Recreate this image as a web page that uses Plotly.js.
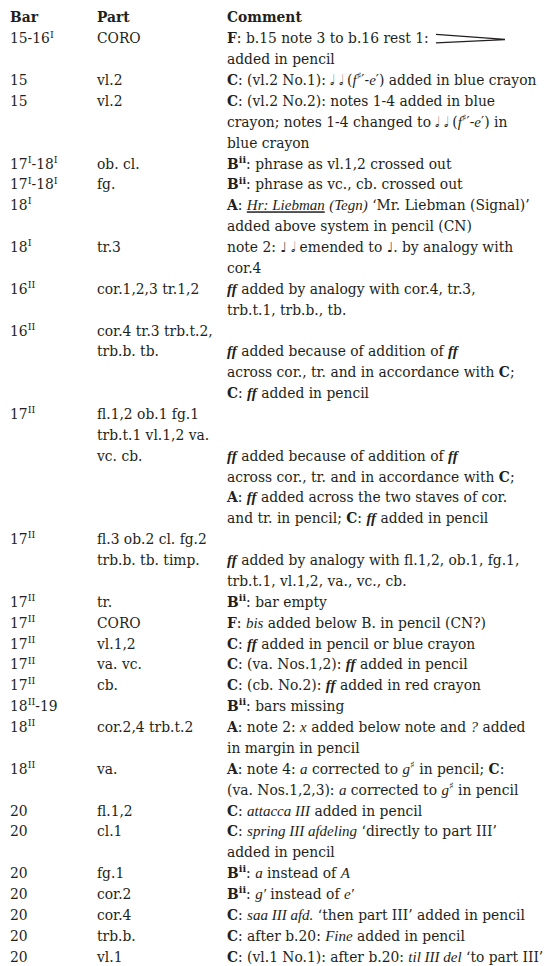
<!DOCTYPE html>
<html><head><meta charset="utf-8">
<script src="https://cdn.plot.ly/plotly-3.0.1.min.js"></script>
<style>html,body{margin:0;padding:0;background:#fff}</style>
</head><body><div id="chart" style="width:545px;height:966px"></div>
<script>
// ---------- table content ----------
const HN = '<span style="font-family:DejaVu Sans">\u{1D15E}</span>'; // half note
const QN = '<span style="font-family:DejaVu Sans">\u2669</span>';    // quarter note
const FF = '<b><i>ff</i></b>';
const SH = '<sup>\u266F</sup>';

const headers = ["Bar", "Part", "Comment"];

const bars = [
  "15-16<sup>I</sup>", "15", "15",
  "17<sup>I</sup>-18<sup>I</sup>", "17<sup>I</sup>-18<sup>I</sup>",
  "18<sup>I</sup>", "18<sup>I</sup>",
  "16<sup>II</sup>", "16<sup>II</sup>",
  "17<sup>II</sup>", "17<sup>II</sup>", "17<sup>II</sup>", "17<sup>II</sup>",
  "17<sup>II</sup>", "17<sup>II</sup>", "17<sup>II</sup>",
  "18<sup>II</sup>-19", "18<sup>II</sup>", "18<sup>II</sup>",
  "20", "20", "20", "20", "20", "20", "20"
];

const parts = [
  "CORO", "vl.2", "vl.2",
  "ob. cl.", "fg.",
  "", "tr.3",
  "cor.1,2,3 tr.1,2", "cor.4 tr.3 trb.t.2,<br>trb.b. tb.",
  "fl.1,2 ob.1 fg.1<br>trb.t.1 vl.1,2 va.<br>vc. cb.", "fl.3 ob.2 cl. fg.2<br>trb.b. tb. timp.", "tr.", "CORO",
  "vl.1,2", "va. vc.", "cb.",
  "", "cor.2,4 trb.t.2", "va.",
  "fl.1,2", "cl.1", "fg.1", "cor.2", "cor.4", "trb.b.", "vl.1"
];

const comments = [
  "<b>F</b>: b.15 note 3 to b.16 rest 1:<br>added in pencil",
  "<b>C</b>: (vl.2 No.1): " + HN + " " + HN + " (<i>f</i>" + SH + "\u2032-<i>e</i>\u2032) added in blue crayon",
  "<b>C</b>: (vl.2 No.2): notes 1-4 added in blue<br>crayon; notes 1-4 changed to " + HN + " " + HN + " (<i>f</i>" + SH + "\u2032-<i>e</i>\u2032) in<br>blue crayon",
  "<b>B<sup>ii</sup></b>: phrase as vl.1,2 crossed out",
  "<b>B<sup>ii</sup></b>: phrase as vc., cb. crossed out",
  "<b>A</b>: <u><i>Hr: Liebman</i></u> <i>(Tegn)</i> \u2018Mr. Liebman (Signal)\u2019<br>added above system in pencil (CN)",
  "note 2: " + QN + " " + HN + " emended to " + QN + ". by analogy with<br>cor.4",
  FF + " added by analogy with cor.4, tr.3,<br>trb.t.1, trb.b., tb.",
  "<br>" + FF + " added because of addition of " + FF + "<br>across cor., tr. and in accordance with <b>C</b>;<br><b>C</b>: " + FF + " added in pencil",
  "<br><br>" + FF + " added because of addition of " + FF + "<br>across cor., tr. and in accordance with <b>C</b>;<br><b>A</b>: " + FF + " added across the two staves of cor.<br>and tr. in pencil; <b>C</b>: " + FF + " added in pencil",
  "<br>" + FF + " added by analogy with fl.1,2, ob.1, fg.1,<br>trb.t.1, vl.1,2, va., vc., cb.",
  "<b>B<sup>ii</sup></b>: bar empty",
  "<b>F</b>: <i>bis</i> added below B. in pencil (CN?)",
  "<b>C</b>: " + FF + " added in pencil or blue crayon",
  "<b>C</b>: (va. Nos.1,2): " + FF + " added in pencil",
  "<b>C</b>: (cb. No.2): " + FF + " added in red crayon",
  "<b>B<sup>ii</sup></b>: bars missing",
  "<b>A</b>: note 2: <i>x</i> added below note and <i>?</i> added<br>in margin in pencil",
  "<b>A</b>: note 4: <i>a</i> corrected to <i>g</i>" + SH + " in pencil; <b>C</b>:<br>(va. Nos.1,2,3): <i>a</i> corrected to <i>g</i>" + SH + " in pencil",
  "<b>C</b>: <i>attacca III</i> added in pencil",
  "<b>C</b>: <i>spring III afdeling</i> \u2018directly to part III\u2019<br>added in pencil",
  "<b>B<sup>ii</sup></b>: <i>a</i> instead of <i>A</i>",
  "<b>B<sup>ii</sup></b>: <i>g\u2032</i> instead of <i>e\u2032</i>",
  "<b>C</b>: <i>saa III afd.</i> \u2018then part III\u2019 added in pencil",
  "<b>C</b>: after b.20: <i>Fine</i> added in pencil",
  "<b>C</b>: (vl.1 No.1): after b.20: <i>til III del</i> \u2018to part III\u2019"
];

// ---------- layout constants ----------
const W = 545, H = 966;
const FONT = "DejaVu Serif";
const FS = 13.85;
const IT_FONT = "Liberation Serif";
const IT_FS = 15;
const COLOR = "#231f20";
const PITCH = 20.87;   // px per text line
const TOP = 19;        // px centre of header line
const colX = [10, 97, 227];

// italic runs use a narrower book-style italic
const styleItalic = s => s.replace(/<i>(.*?)<\/i>/g,
  (m, t) => `<span style="font-family:'${IT_FONT}';font-size:${IT_FS}px"><i>${t}</i></span>`);

// ---------- build one text point per line ----------
const lx = [[], [], []], ly = [[], [], []], lt = [[], [], []];
headers.forEach((h, c) => { lx[c].push(colX[c]); ly[c].push(0); lt[c].push("<b>" + h + "</b>"); });
let line = 1;
const rowStart = [];
for (let r = 0; r < bars.length; r++) {
  rowStart.push(line);
  const cells = [bars[r], parts[r], comments[r]];
  let n = 1;
  cells.forEach((cell, c) => {
    const ls = cell.split("<br>");
    n = Math.max(n, ls.length);
    ls.forEach((t, k) => {
      if (t !== "") { lx[c].push(colX[c]); ly[c].push(line + k); lt[c].push(styleItalic(t)); }
    });
  });
  line += n;
}

const traces = [0, 1, 2].map(c => ({
  type: "scatter", mode: "text",
  x: lx[c], y: ly[c], text: lt[c],
  textposition: "middle right",
  textfont: { family: FONT, size: FS, color: COLOR },
  hoverinfo: "skip", showlegend: false, cliponaxis: false
}));

// decrescendo hairpin after "rest 1:" (row 0, first line)
const hy = rowStart[0];
const u = px => px / PITCH;
const hairpin = {
  type: "path", xref: "x", yref: "y",
  path: `M436,${hy + u(-5.5)} L505,${hy + u(-0.4)} M436,${hy + u(3)} L505,${hy + u(-0.2)}`,
  line: { color: COLOR, width: 1.2 }
};

const layout = {
  width: W, height: H,
  margin: { l: 0, r: 0, t: 0, b: 0, pad: 0 },
  paper_bgcolor: "#ffffff", plot_bgcolor: "#ffffff",
  xaxis: { range: [0, W], visible: false, fixedrange: true },
  yaxis: { range: [(H - TOP) / PITCH, -TOP / PITCH], visible: false, fixedrange: true },
  shapes: [hairpin],
  showlegend: false
};

Plotly.newPlot("chart", traces, layout, { displayModeBar: false, staticPlot: true });
</script>
</body></html>
